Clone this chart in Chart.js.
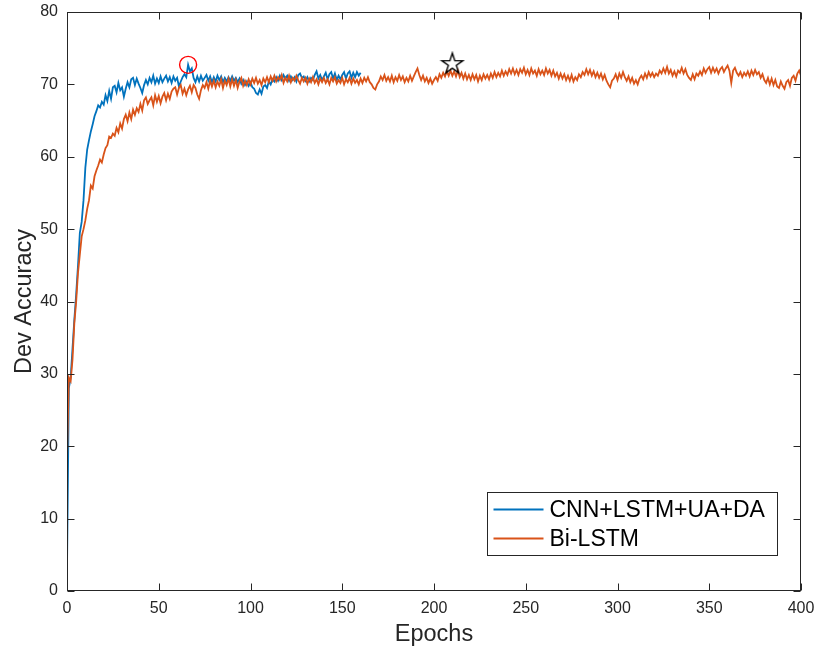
<!DOCTYPE html>
<html>
<head>
<meta charset="utf-8">
<script src="https://cdn.jsdelivr.net/npm/chart.js@4.4.1/dist/chart.umd.min.js"></script>
<style>
  html, body { margin: 0; padding: 0; background: #fff; }
  #devChart { display: block; }
</style>
</head>
<body>
<canvas id="devChart" width="816" height="651"></canvas>
<script>
"use strict";

// dev accuracy per epoch (index = epoch)
const cnnLstmAcc = [
  3.0, 28.0, 29.5, 33.5, 37.5, 41.0, 45.0, 49.5, 51.0, 54.0,
  58.5, 61.0, 62.3, 63.5, 64.5, 65.6, 66.3, 67.1, 66.8, 67.6,
  67.2, 68.5, 67.7, 69.1, 68.0, 69.6, 69.8, 68.9, 70.2, 69.2,
  69.6, 68.3, 69.4, 70.3, 69.6, 70.7, 70.9, 69.9, 70.8, 70.1,
  69.5, 68.8, 69.9, 70.6, 70.0, 70.9, 70.3, 71.2, 70.1, 70.8,
  70.2, 71.1, 70.3, 70.8, 71.2, 70.4, 71.0, 70.2, 71.1, 70.5,
  70.9, 69.7, 70.4, 71.0, 71.4, 71.0, 72.7, 71.8, 72.2, 70.9,
  70.3, 71.1, 70.4, 71.2, 70.5, 70.9, 71.3, 70.5, 71.1, 70.3,
  71.0, 70.4, 71.2, 70.6, 71.1, 70.3, 70.9, 70.4, 71.0, 70.5,
  71.1, 70.5, 70.9, 70.3, 70.8, 70.1, 70.6, 69.9, 70.4, 69.8,
  70.3, 69.6, 69.4, 68.8, 68.6, 69.3, 68.7, 69.7, 69.9, 69.5,
  70.4, 70.0, 70.7, 70.4, 71.0, 70.5, 71.2, 70.6, 71.3, 70.8,
  71.2, 70.5, 71.1, 70.6, 71.0, 70.4, 71.3, 71.5, 70.9, 71.1,
  70.5, 71.0, 70.4, 70.9, 70.6, 71.3, 71.8, 70.8, 71.3, 70.6,
  71.1, 71.6, 70.7, 71.4, 71.7, 70.8, 71.5, 70.6, 71.2, 70.7,
  71.3, 71.7, 70.8, 71.5, 71.8, 70.9, 71.6, 71.0, 71.7, 71.2,
  71.6
];

const biLstmAcc = [
  18.0, 29.5, 29.0, 32.0, 37.0, 40.0, 44.0, 46.5, 49.0, 50.0,
  51.2, 52.8, 54.0, 56.0, 55.6, 57.3, 58.1, 58.8, 59.6, 59.2,
  60.3, 61.2, 61.6, 62.8, 62.6, 63.2, 62.9, 64.0, 63.4, 64.6,
  63.9, 65.2, 65.8, 64.9, 66.1, 65.2, 66.5, 65.8, 66.7, 66.2,
  67.3, 66.4, 67.8, 68.2, 67.3, 67.8, 68.2, 67.1, 68.5, 67.6,
  68.4, 67.4, 68.3, 68.8, 67.8, 68.7, 68.0, 69.0, 69.4, 69.6,
  68.6, 69.5, 69.9, 68.7, 69.4, 68.5, 69.3, 69.8, 68.9, 69.9,
  69.5, 68.6, 68.0, 69.2, 69.9, 69.5, 70.3, 69.4, 70.5, 69.7,
  70.5, 69.6, 70.4, 69.8, 70.7, 69.5, 70.5, 69.9, 70.8, 69.7,
  70.7, 69.8, 70.6, 69.5, 70.4, 70.9, 69.8, 70.5, 69.9, 70.7,
  70.0, 70.8, 70.2, 70.9, 70.1, 70.6, 69.9, 70.8, 70.3, 71.0,
  70.3, 71.1, 70.5, 71.2, 70.4, 71.0, 70.6, 71.3, 70.2, 70.9,
  70.4, 71.2, 70.3, 70.9, 70.5, 71.2, 70.6, 70.1, 70.9, 70.4,
  70.9, 70.1, 70.8, 70.3, 71.0, 70.2, 70.7, 70.0, 70.8, 70.3,
  70.9, 70.2, 70.7, 70.0, 70.9, 70.4, 71.0, 70.1, 70.6, 70.2,
  70.9, 70.0, 70.7, 70.3, 70.9, 70.1, 70.8, 70.2, 70.6, 70.0,
  70.8, 70.2, 70.9, 70.4, 71.0, 70.3, 70.0, 69.5, 69.3, 70.0,
  70.4, 71.1, 70.6, 71.3, 70.5, 71.0, 70.4, 71.2, 70.3, 71.0,
  70.5, 71.3, 70.6, 71.1, 70.3, 70.9, 70.4, 71.2, 70.5, 71.1,
  71.7, 72.2, 71.3, 70.6, 71.2, 70.4, 70.9, 70.2, 70.8, 70.1,
  70.6, 71.0, 70.5, 71.4, 70.9, 71.6, 71.1, 71.8, 71.2, 71.9,
  71.2, 71.8, 71.1, 71.9, 71.0, 71.6, 70.8, 71.5, 70.7, 71.3,
  70.6, 71.4, 70.7, 71.3, 70.4, 71.2, 70.6, 71.4, 70.8, 71.3,
  70.7, 71.5, 70.9, 71.7, 71.0, 71.6, 71.1, 71.9, 71.2, 71.8,
  71.3, 72.1, 71.5, 72.2, 71.4, 72.0, 71.3, 72.1, 71.6, 72.3,
  71.4, 72.0, 71.3, 72.2, 71.5, 71.9, 71.2, 72.1, 71.4, 71.9,
  71.3, 72.2, 71.5, 72.0, 71.2, 71.9, 71.1, 71.6, 70.8, 71.5,
  70.8, 71.4, 70.6, 71.2, 70.5, 71.3, 70.4, 71.0, 70.6, 71.4,
  71.0, 71.7, 71.3, 72.1, 71.4, 72.0, 71.2, 71.8, 71.0, 71.6,
  70.9, 71.5, 70.7, 71.3, 70.5, 70.0, 69.6, 70.5, 70.8, 71.4,
  70.6, 71.5, 70.9, 71.7, 71.0, 70.5, 71.1, 70.3, 70.9, 70.1,
  70.6, 70.0, 70.8, 71.2, 70.7, 71.5, 70.9, 71.7, 71.1, 71.6,
  71.0, 71.5, 71.2, 71.9, 71.5, 72.2, 71.6, 72.4, 71.5, 72.0,
  71.2, 71.8, 71.1, 71.9, 71.6, 72.3, 71.5, 72.1, 71.3, 70.9,
  70.6, 71.4, 70.7, 71.5, 71.2, 71.8, 71.3, 72.2, 71.6, 72.1,
  72.4, 71.6, 72.3, 71.7, 72.2, 71.5, 72.1, 72.4, 71.7, 72.2,
  72.6, 71.9, 70.2, 71.9, 72.3, 71.6, 71.2, 71.7, 71.0, 71.6,
  71.2, 71.8, 71.1, 71.9, 71.3, 72.0, 71.4, 71.7, 70.9, 71.4,
  70.6, 70.2, 70.9, 70.0, 70.8, 69.9, 70.6, 69.7, 69.5, 70.4,
  69.8, 69.4, 70.3, 70.6, 69.8, 70.9, 71.2, 70.5, 71.5, 71.9,
  71.2
];

// best-epoch markers
const circleMark = [{ x: 66, y: 72.7 }];
const starMark = [{ x: 210, y: 72.8 }];

const seriesLabels = ["CNN+LSTM+UA+DA", "Bi-LSTM"];
const xTickStep = 50;
const yTickStep = 10;

const BLUE = "#0072BD";
const ORANGE = "#D95319";
const AXIS = "#262626";
const FONT = "'Liberation Sans', Arial, Helvetica, sans-serif";
const TICK_LEN = 7;

function toPoints(values) {
  return values.map((v, i) => ({ x: i, y: v }));
}

function makeStar(r) {
  const size = Math.ceil(r * 2 + 4);
  const c = document.createElement("canvas");
  c.width = size;
  c.height = size;
  const g = c.getContext("2d");
  const cx = size / 2;
  const cy = size / 2;
  const inner = r * 0.382;
  g.beginPath();
  for (let i = 0; i < 10; i += 1) {
    const ang = -Math.PI / 2 + (i * Math.PI) / 5;
    const rad = i % 2 === 0 ? r : inner;
    const px = cx + rad * Math.cos(ang);
    const py = cy + rad * Math.sin(ang);
    if (i === 0) g.moveTo(px, py); else g.lineTo(px, py);
  }
  g.closePath();
  g.strokeStyle = "#000";
  g.lineWidth = 1.4;
  g.lineJoin = "miter";
  g.stroke();
  return c;
}

// label overflow padding would shift the plot box, drop it
function noLabelPadding(scale) {
  scale.paddingTop = 0;
  scale.paddingBottom = 0;
  scale.paddingLeft = 0;
  scale.paddingRight = 0;
}

// MATLAB style box with inward ticks on all four sides
const axesBoxPlugin = {
  id: "axesBox",
  afterDatasetsDraw(chart) {
    const { ctx, chartArea: a, scales } = chart;
    const L = Math.round(a.left) + 0.5;
    const R = Math.round(a.right) - 0.5;
    const T = Math.round(a.top) + 0.5;
    const B = Math.round(a.bottom) - 0.5;
    ctx.save();
    ctx.strokeStyle = AXIS;
    ctx.lineWidth = 1;
    ctx.beginPath();
    scales.x.ticks.forEach((t) => {
      const px = Math.round(scales.x.getPixelForValue(t.value)) + 0.5;
      ctx.moveTo(px, B);
      ctx.lineTo(px, B - TICK_LEN);
      ctx.moveTo(px, T);
      ctx.lineTo(px, T + TICK_LEN);
    });
    scales.y.ticks.forEach((t) => {
      const py = Math.round(scales.y.getPixelForValue(t.value)) + 0.5;
      ctx.moveTo(L, py);
      ctx.lineTo(L + TICK_LEN, py);
      ctx.moveTo(R, py);
      ctx.lineTo(R - TICK_LEN, py);
    });
    ctx.stroke();
    ctx.strokeRect(L, T, R - L, B - T);
    ctx.restore();
  }
};

const legendBoxPlugin = {
  id: "legendBox",
  afterDraw(chart) {
    const { ctx, chartArea: a } = chart;
    const w = 290;
    const h = 63;
    const x0 = Math.round(a.right - 24 - w) + 0.5;
    const y0 = Math.round(a.bottom - 36 - h) + 0.5;
    ctx.save();
    ctx.fillStyle = "#fff";
    ctx.fillRect(x0, y0, w, h);
    ctx.strokeStyle = AXIS;
    ctx.lineWidth = 1;
    ctx.strokeRect(x0, y0, w, h);
    const rows = chart.data.datasets.filter((d) => seriesLabels.includes(d.label));
    rows.sort((p, q) => seriesLabels.indexOf(p.label) - seriesLabels.indexOf(q.label));
    ctx.font = `23px ${FONT}`;
    ctx.textBaseline = "middle";
    ctx.textAlign = "left";
    rows.forEach((d, i) => {
      const cy = y0 + 17 + i * 29;
      ctx.strokeStyle = d.borderColor;
      ctx.lineWidth = 1.8;
      ctx.beginPath();
      ctx.moveTo(x0 + 6, cy);
      ctx.lineTo(x0 + 56, cy);
      ctx.stroke();
      ctx.fillStyle = "#000";
      ctx.fillText(d.label, x0 + 62, cy + 1);
    });
    ctx.restore();
  }
};

function drawChart() {
  const ctx = document.getElementById("devChart").getContext("2d");

  new Chart(ctx, {
    type: "line",
    data: {
      datasets: [
        {
          label: seriesLabels[0],
          data: toPoints(cnnLstmAcc),
          borderColor: BLUE,
          borderWidth: 1.8,
          pointRadius: 0,
          tension: 0,
          order: 4
        },
        {
          label: seriesLabels[1],
          data: toPoints(biLstmAcc),
          borderColor: ORANGE,
          borderWidth: 1.8,
          pointRadius: 0,
          tension: 0,
          order: 3
        },
        {
          label: "best-cnn",
          data: circleMark,
          showLine: false,
          pointStyle: "circle",
          pointRadius: 8.5,
          pointBorderWidth: 1.4,
          pointBorderColor: "#FF0000",
          pointBackgroundColor: "rgba(0,0,0,0)",
          order: 2
        },
        {
          label: "best-bilstm",
          data: starMark,
          showLine: false,
          pointStyle: makeStar(11),
          pointRadius: 11,
          order: 1
        }
      ]
    },
    options: {
      responsive: false,
      animation: false,
      events: [],
      layout: { padding: { top: 12, right: 15, left: 0, bottom: 0 } },
      scales: {
        x: {
          type: "linear",
          min: 0,
          max: 400,
          grid: { display: false, drawTicks: false },
          border: { display: false },
          ticks: {
            stepSize: xTickStep,
            padding: 8,
            maxRotation: 0,
            autoSkip: false,
            color: AXIS,
            font: { family: FONT, size: 16 }
          },
          title: {
            display: true,
            text: "Epochs",
            color: AXIS,
            font: { family: FONT, size: 23.5 },
            padding: { top: 0, bottom: 2 }
          },
          afterFit(scale) {
            scale.height = 60;
            noLabelPadding(scale);
          }
        },
        y: {
          type: "linear",
          min: 0,
          max: 80,
          grid: { display: false, drawTicks: false },
          border: { display: false },
          ticks: {
            stepSize: yTickStep,
            padding: 9,
            autoSkip: false,
            color: AXIS,
            font: { family: FONT, size: 16 }
          },
          title: {
            display: true,
            text: "Dev Accuracy",
            color: AXIS,
            font: { family: FONT, size: 23.5 },
            padding: { top: 10, bottom: 0 }
          },
          afterFit(scale) {
            scale.width = 67;
            noLabelPadding(scale);
          }
        }
      },
      plugins: {
        legend: { display: false },
        tooltip: { enabled: false }
      }
    },
    plugins: [axesBoxPlugin, legendBoxPlugin]
  });
}

drawChart();
</script>
</body>
</html>
